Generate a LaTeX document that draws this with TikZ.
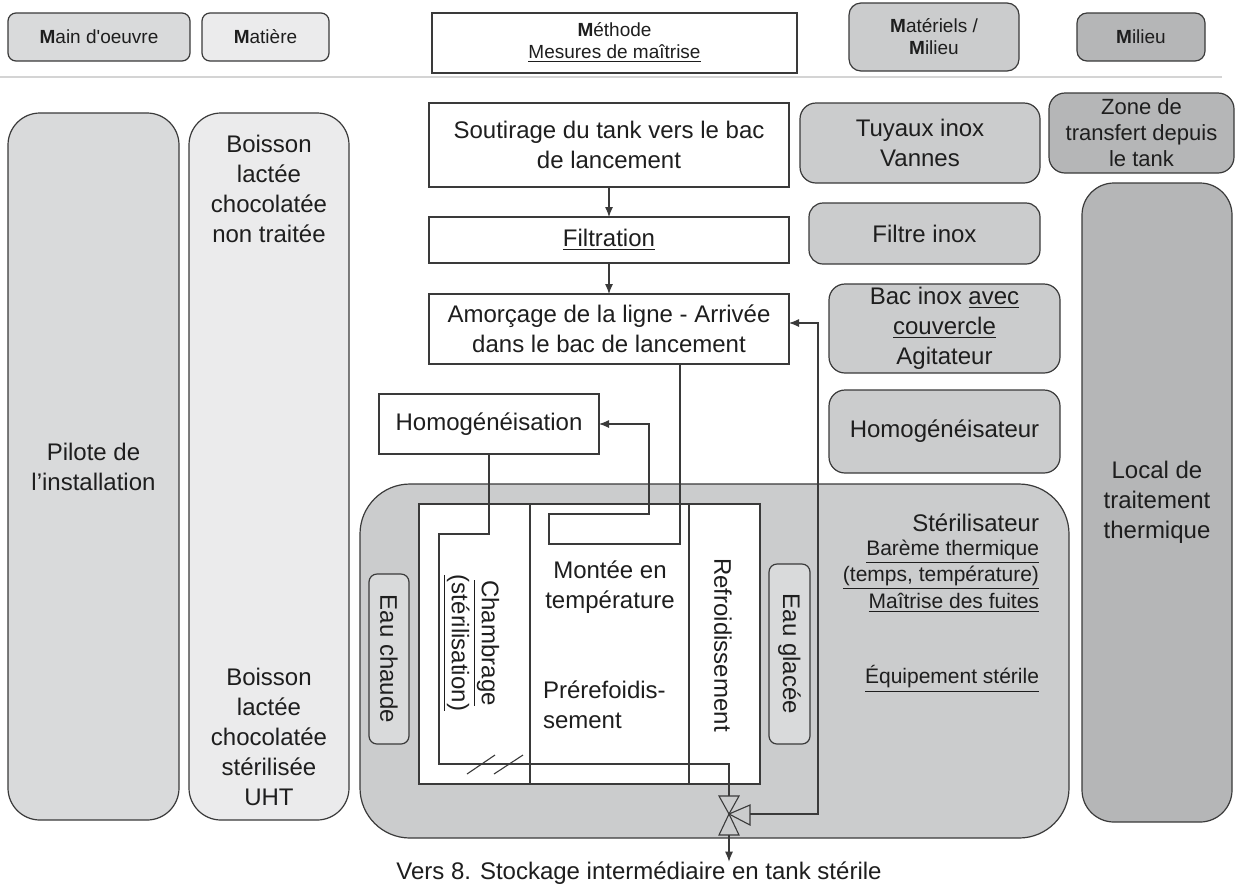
\documentclass[tikz,border=0pt]{standalone}
\usepackage{fontspec}
\setmainfont{Liberation Sans}
\usetikzlibrary{arrows.meta,calc}
\definecolor{bordc}{HTML}{3A3A3A}
\definecolor{txtc}{HTML}{1E1E1E}
\definecolor{gA}{HTML}{D9DADB}
\definecolor{gB}{HTML}{EBEBEC}
\definecolor{gC}{HTML}{CBCCCD}
\definecolor{gD}{HTML}{B5B6B7}
\definecolor{sepc}{HTML}{D4D4D4}
\newcommand\mkbox[7]{\node[#2, minimum width={(#5-#3)*0.5pt}, minimum height={(#6-#4)*0.5pt}] (#1) at ({(#3+#5)/2},{(#4+#6)/2}) {#7};}
\tikzset{
  box/.style={draw=bordc, line width=0.6pt, inner sep=0pt, outer sep=0pt, align=center, text=txtc, font=\fontsize{12}{15}\selectfont},
  hdr/.style={box, font=\fontsize{9.5}{11}\selectfont},
  txt/.style={inner sep=0pt, outer sep=0pt, align=center, text=txtc, font=\fontsize{12}{15}\selectfont},
  txts/.style={txt, font=\fontsize{10.5}{13}\selectfont},
  conn/.style={draw=bordc, line width=0.55pt},
  arr/.style={conn, -{Latex[length=5pt,width=4pt]}},
  sepline/.style={draw=sepc, line width=1pt}
}
\begin{document}
\begin{tikzpicture}[x=0.5pt,y=-0.5pt]
\fill[white] (0,0) rectangle (1236,890);
\useasboundingbox (0,0) rectangle (1236,890);
% header
\mkbox{mo}{hdr, fill=gA, rounded corners=4pt}{8}{13}{190}{61}{\textbf{M}ain d\textquotesingle oeuvre}
\mkbox{mat}{hdr, fill=gB, rounded corners=4pt}{202}{13}{329}{61}{\textbf{M}atière}
\mkbox{meth}{hdr, fill=white}{432}{13}{797}{73}{\textbf{M}éthode\\\underline{Mesures de maîtrise}}
\mkbox{matl}{hdr, fill=gC, rounded corners=6pt}{849}{3}{1019}{71}{\textbf{M}atériels /\\\textbf{M}ilieu}
\mkbox{mil}{hdr, fill=gD, rounded corners=5pt}{1077}{13}{1205}{61}{\textbf{M}ilieu}
\draw[sepline] (0,77) -- (1222,77);
% left columns
\mkbox{pil}{box, fill=gA, rounded corners=16pt}{8}{113}{179}{820}{Pilote de\\l’installation}
\mkbox{boi}{box, fill=gB, rounded corners=16pt}{189}{113}{349}{820}{}
\node[txt] (boiA) at (269,189) {Boisson\\lactée\\chocolatée\\non traitée};
\node[txt] (boiB) at (269,737) {Boisson\\lactée\\chocolatée\\stérilisée\\UHT};
% right column
\mkbox{tuy}{box, fill=gC, rounded corners=8pt}{800}{103}{1040}{183}{Tuyaux inox\\Vannes}
\mkbox{zone}{box, fill=gD, rounded corners=8pt, font=\fontsize{11}{13}\selectfont}{1049}{93}{1234}{173}{Zone de\\transfert depuis\\le tank}
\mkbox{filtre}{box, fill=gC, rounded corners=7pt}{809}{203}{1040}{264}{Filtre inox}
\mkbox{bac}{box, fill=gC, rounded corners=8pt}{829}{284}{1060}{373}{Bac inox \underline{avec}\\\underline{couvercle}\\Agitateur}
\mkbox{homr}{box, fill=gC, rounded corners=8pt}{829}{390}{1060}{473}{Homogénéisateur}
\mkbox{local}{box, fill=gD, rounded corners=16pt}{1082}{183}{1232}{822}{Local de\\traitement\\thermique}
% sterilizer
\mkbox{ster}{box, fill=gC, rounded corners=25pt}{360}{484}{1069}{838}{}
\mkbox{inner}{box, fill=white}{419}{504}{760}{784}{}
\draw[conn] (530,504) -- (530,784);
\draw[conn] (689,504) -- (689,784);
\mkbox{eauc}{box, fill=gA, rounded corners=4pt}{369}{574}{409}{744}{}
\mkbox{eaug}{box, fill=gA, rounded corners=4pt}{769}{564}{810}{744}{}
\node[txt, rotate=-90] (eaucT) at (eauc) {Eau chaude};
\node[txt, rotate=-90] (eaugT) at (eaug) {Eau glacée};
\node[txt, rotate=-90] (chamT) at (471,643) {\underline{Chambrage}\\\underline{(stérilisation)}};
\node[txt, rotate=-90] (refT) at (723,645) {Refroidissement};
\node[txt] (monT) at (610,587) {Montée en\\température};
\node[txt, anchor=west, align=left] (preT) at (543,705) {Prérefoidis-\\sement};
\node[txt, anchor=east, align=right] (sterT) at (1039,523) {Stérilisateur};
\node[txts, anchor=east, align=right] (ster1) at (1039,552) {\underline{Barème thermique}};
\node[txts, anchor=east, align=right] (ster2) at (1039,578) {\underline{(temps, température)}};
\node[txts, anchor=east, align=right] (ster3) at (1039,603) {\underline{Maîtrise des fuites}};
\node[txts, anchor=east, align=right] (ster4) at (1039,679) {\underline{Équipement stérile}};
% flow boxes
\mkbox{sout}{box, fill=white}{429}{103}{789}{187}{Soutirage du tank vers le bac\\de lancement}
\mkbox{filt}{box, fill=white}{429}{217}{789}{263}{\underline{Filtration}}
\mkbox{amor}{box, fill=white}{429}{294}{789}{364}{Amorçage de la ligne - Arrivée\\dans le bac de lancement}
\mkbox{homo}{box, fill=white}{379}{394}{599}{454}{Homogénéisation}
% valve
\coordinate (vc) at (729,814);
\coordinate (vtop) at (729,796);
\coordinate (vbot) at (729,835);
\coordinate (vside) at (750,814);
\draw[conn] (719,796) -- (739,796) -- (vc) -- cycle;
\draw[conn] (719,835) -- (739,835) -- (vc) -- cycle;
\draw[conn] (vc) -- (750,805) -- (750,825) -- cycle;
% connectors
\draw[arr] (sout.south) -- (filt.north);
\draw[arr] (filt.south) -- (amor.north);
\draw[arr] ([xshift=35.5pt]amor.south) -- ++(0,180) -- ++(-131,0) -- ++(0,-30) -- ++(100,0) |- (homo.east);
\draw[conn] (homo.south) -- ++(0,80) -- ++(-50,0) -- ++(0,230) -| (vtop);
\draw[conn] (467,774) -- (495,755);
\draw[conn] (494,774) -- (523,755);
\draw[arr] (vside) -- (818,814) |- ([yshift=3pt]amor.east);
\node[txt] (vers) at (639,873) {Vers 8. Stockage intermédiaire en tank stérile};
\draw[arr] (vbot) -- (vbot |- vers.north);
\end{tikzpicture}
\end{document}
